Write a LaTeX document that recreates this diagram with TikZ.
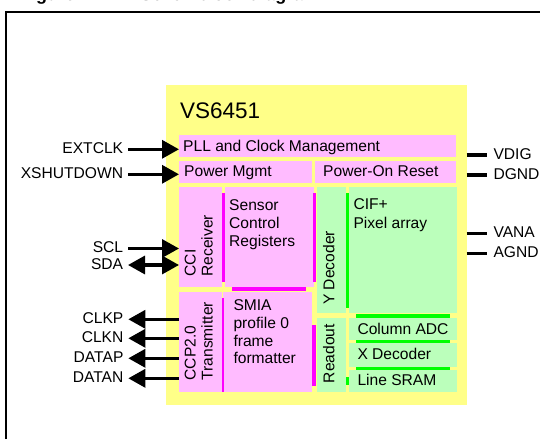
\documentclass[tikz,border=0pt]{standalone}
\usepackage{fontspec}
\setmainfont{Liberation Sans}
\usetikzlibrary{arrows.meta}
\definecolor{ylw}{HTML}{FFFF00}
\definecolor{ylwfill}{HTML}{FFFF88}
\definecolor{pinkfill}{HTML}{FFBBFF}
\definecolor{greenfill}{HTML}{BBFFBB}
\definecolor{mag}{HTML}{FF00FF}
\definecolor{grn}{HTML}{00FF00}
\begin{document}
\begin{tikzpicture}[x=1pt,y=-1pt,
  txt/.style={inner sep=0pt, font=\fontsize{15.6}{18}\selectfont},
  lbl/.style={txt, text height=8pt, text depth=0pt},
  lft/.style={lbl, anchor=east, inner xsep=4.7pt},
  rgt/.style={lbl, anchor=west, inner xsep=6.3pt},
  blk/.style={draw=none, inner sep=0pt, outer sep=0pt, anchor=north west},
  pinkbox/.style={blk, fill=pinkfill},
  greenbox/.style={blk, fill=greenfill},
  sig/.style={line width=3.3pt, -{Triangle[length=17pt,width=18pt]}},
  sigboth/.style={line width=3.3pt, {Triangle[length=17pt,width=18pt]}-{Triangle[length=17pt,width=18pt]}},
  pwr/.style={line width=3.3pt},
  magbar/.style={draw=mag},
  grnbar/.style={draw=grn},
]
\useasboundingbox (0,0) rectangle (540,439);
\clip (0,0) rectangle (540,439);

% title (cut off at top)
\node[inner sep=0pt, anchor=base west, font=\fontsize{18}{20}\selectfont\bfseries] (title) at (20,0.2) {Figure 1.\hspace{33pt}VS6451 block diagram};

% frame
\draw[line width=2pt] (6,439) -- (6,12) -- (540,12);

% chip
\node[draw=ylw, line width=3pt, fill=ylwfill, blk, minimum width=301pt, minimum height=320pt] (chip) at (165.5,84.5) {};
\node[txt, anchor=base west, font=\fontsize{22.5}{24}\selectfont] (name) at (180,118) {VS6451};

% blocks
\node[pinkbox, minimum width=277pt, minimum height=22pt] (pll) at (179,135) {};
\node[pinkbox, minimum width=133pt, minimum height=22pt] (pm) at (179,161) {};
\node[pinkbox, minimum width=141pt, minimum height=22pt] (por) at (315,161) {};
\node[pinkbox, minimum width=43pt, minimum height=100pt] (cci) at (179,187) {};
\node[pinkbox, minimum width=89pt, minimum height=100pt] (scr) at (225,187) {};
\node[pinkbox, minimum width=43pt, minimum height=100pt] (ccp) at (179,292) {};
\node[pinkbox, minimum width=89pt, minimum height=100pt] (smia) at (223,292) {};
\node[greenbox, minimum width=29pt, minimum height=126pt] (ydec) at (317,187) {};
\node[greenbox, minimum width=108pt, minimum height=126pt] (cif) at (349,187) {};
\node[greenbox, minimum width=29pt, minimum height=74pt] (rdo) at (317,318) {};
\node[greenbox, minimum width=108pt, minimum height=22pt] (adc) at (349,318) {};
\node[greenbox, minimum width=108pt, minimum height=24pt] (xdec) at (349,343) {};
\node[greenbox, minimum width=108pt, minimum height=22pt] (sram) at (349,370) {};

% coloured edge bars
\draw[magbar, line width=3pt] (223.5,193) -- (223.5,282);
\draw[magbar, line width=3pt] (314.8,193) -- (314.8,282);
\draw[magbar, line width=3.5pt] (232,289) -- (306,289);
\draw[magbar, line width=2pt] (223,298) -- (223,392);
\draw[magbar, line width=3.5pt] (314.2,325) -- (314.2,385.5);
\draw[grnbar, line width=3pt] (347.4,193) -- (347.4,308);
\draw[grnbar, line width=3.4pt] (356,316) -- (450,316);
\draw[grnbar, line width=3.2pt] (356,341.6) -- (450,341.6);
\draw[grnbar, line width=3.2pt] (356,368.4) -- (450,368.4);
\draw[grnbar, line width=3pt] (347.4,377) -- (347.4,385);

% block texts
\node[txt, anchor=base west] (tpll) at (183,151.5) {PLL and Clock Management};
\node[txt, anchor=base west] (tpm) at (184,176.7) {Power Mgmt};
\node[txt, anchor=base west] (tpor) at (323,176.7) {Power-On Reset};
\node[txt, anchor=base west, rotate=90] (tcci1) at (195.7,276.7) {CCI};
\node[txt, anchor=base west, rotate=90] (tcci2) at (212.7,276.7) {Receiver};
\node[txt, anchor=base west, rotate=90] (tccp1) at (195.7,380.5) {CCP2.0};
\node[txt, anchor=base west, rotate=90] (tccp2) at (212.7,380.5) {Transmitter};
\node[txt, anchor=base west] (tscr1) at (229,210.7) {Sensor};
\node[txt, anchor=base west] (tscr2) at (229,228.5) {Control};
\node[txt, anchor=base west] (tscr3) at (229,246.3) {Registers};
\node[txt, anchor=base west] (tsm1) at (233.3,310) {SMIA};
\node[txt, anchor=base west] (tsm2) at (233.3,328.2) {profile 0};
\node[txt, anchor=base west] (tsm3) at (233.3,346) {frame};
\node[txt, anchor=base west] (tsm4) at (233.3,363.5) {formatter};
\node[txt, anchor=base west, rotate=90] (tyd) at (334.3,305) {Y Decoder};
\node[txt, anchor=base west, rotate=90] (trd) at (334.3,383.3) {Readout};
\node[txt, anchor=base west] (tcif1) at (353.3,209.5) {CIF+};
\node[txt, anchor=base west] (tcif2) at (353.3,228) {Pixel array};
\node[txt, anchor=base west] (tadc) at (357.3,334) {Column ADC};
\node[txt, anchor=base west] (txd) at (357.3,359.3) {X Decoder};
\node[txt, anchor=base west] (tsr) at (357.3,385.5) {Line SRAM};

% pin labels
\node[lft] (extclk) at (128,149.3) {EXTCLK};
\node[lft] (xshut) at (128,174.3) {XSHUTDOWN};
\node[lft] (scl) at (128,248.5) {SCL};
\node[lft] (sda) at (128,265) {SDA};
\node[lft] (clkp) at (128.3,319.3) {CLKP};
\node[lft] (clkn) at (128.3,338.3) {CLKN};
\node[lft] (datap) at (128.3,358.3) {DATAP};
\node[lft] (datan) at (128.3,378.3) {DATAN};
\node[rgt] (vdig) at (487,155) {VDIG};
\node[rgt] (dgnd) at (487,175) {DGND};
\node[rgt] (vana) at (487,233.3) {VANA};
\node[rgt] (agnd) at (487,253.3) {AGND};

% connectors
\draw[sig] (extclk.east) -- (extclk.east -| pll.west);
\draw[sig] (xshut.east) -- (xshut.east -| pm.west);
\draw[sig] (scl.east) -- (scl.east -| cci.west);
\draw[sigboth] (sda.east) -- (sda.east -| cci.west);
\draw[sig] (clkp.east -| ccp.west) -- (clkp.east);
\draw[sig] (clkn.east -| ccp.west) -- (clkn.east);
\draw[sig] (datap.east -| ccp.west) -- (datap.east);
\draw[sig] (datan.east -| ccp.west) -- (datan.east);
\draw[pwr] (vdig.west -| chip.east) -- (vdig.west);
\draw[pwr] (dgnd.west -| chip.east) -- (dgnd.west);
\draw[pwr] (vana.west -| chip.east) -- (vana.west);
\draw[pwr] (agnd.west -| chip.east) -- (agnd.west);
\end{tikzpicture}
\end{document}
